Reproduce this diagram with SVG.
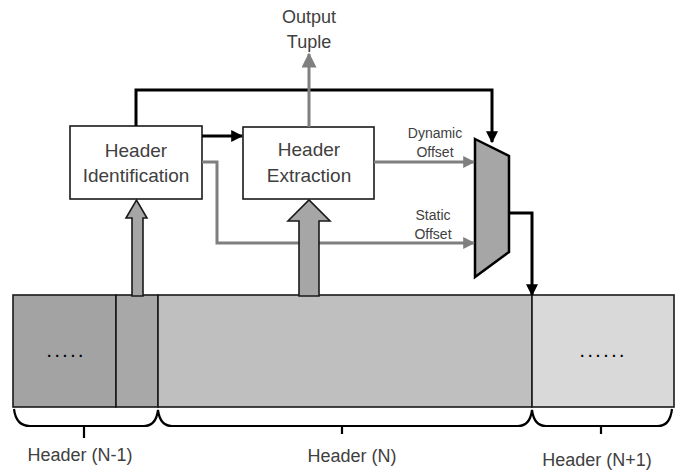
<svg xmlns="http://www.w3.org/2000/svg" width="680" height="470" viewBox="0 0 680 470">
<defs>
<style>
text{font-family:"Liberation Sans",Arial,sans-serif;fill:#404040;text-anchor:middle}
.box{fill:#fff;stroke:#1a1a1a;stroke-width:1.6}
.blk{fill:none;stroke:#000;stroke-width:3}
.gry{fill:none;stroke:#7f7f7f;stroke-width:3}
.blkarr{fill:#a6a6a6;stroke:#1a1a1a;stroke-width:1.6}
.seg{stroke:#1a1a1a;stroke-width:1.6}
.brace{fill:none;stroke:#000;stroke-width:2.2}
.bt{font-size:19px}
.lt{font-size:14px}
.ht{font-size:18px}
.dots{font-size:14px;font-weight:bold;letter-spacing:4px;fill:#000}
</style>
<marker id="ab" viewBox="0 0 10 10" refX="9" refY="5" markerWidth="4" markerHeight="4" orient="auto" markerUnits="strokeWidth"><path d="M0,0 L10,5 L0,10 z" fill="#000"/></marker>
<marker id="ag" viewBox="0 0 10 10" refX="9" refY="5" markerWidth="4" markerHeight="4" orient="auto" markerUnits="strokeWidth"><path d="M0,0 L10,5 L0,10 z" fill="#7f7f7f"/></marker>
<marker id="agl" viewBox="0 0 10 10" refX="9" refY="5" markerWidth="5" markerHeight="5" orient="auto" markerUnits="strokeWidth"><path d="M0,0 L10,5 L0,10 z" fill="#7f7f7f"/></marker>
</defs>

<g id="stream">
<rect class="seg" x="13" y="295" width="103" height="112" fill="#a3a3a3"/>
<rect class="seg" x="116" y="295" width="42" height="112" fill="#a8a8a8"/>
<rect class="seg" x="158" y="295" width="374" height="112" fill="#bfbfbf"/>
<rect class="seg" x="532" y="295" width="142" height="112" fill="#d9d9d9"/>
<text class="dots" x="67" y="357">.....</text>
<text class="dots" x="604" y="357">......</text>
</g>

<g id="braces">
<path class="brace" d="M14,409 Q16,426 30,426 H144 Q156,426 158,410 Q160,426 172,426 H518 Q530,426 532,410 Q534,426 546,426 H658 Q670,426 672,409"/>
<path class="brace" d="M84,426 V438 M342,426 V434 M601,426 V434"/>
<text class="ht" x="80" y="461">Header (N-1)</text>
<text class="ht" x="352" y="462">Header (N)</text>
<text class="ht" x="597" y="466">Header (N+1)</text>
</g>

<g id="header-identification">
<rect class="box" x="70" y="126" width="132" height="73"/>
<text class="bt" x="136" y="157">Header</text>
<text class="bt" x="136" y="182">Identification</text>
</g>

<g id="header-extraction">
<rect class="box" x="243" y="127" width="131" height="72"/>
<text class="bt" x="309" y="156">Header</text>
<text class="bt" x="309" y="182">Extraction</text>
</g>

<g id="mux">
<polygon points="475,139 509,156 509,252 475,277" fill="#a6a6a6" stroke="#000" stroke-width="2.5"/>
</g>

<g id="output-tuple">
<text class="ht" x="309" y="23">Output</text>
<text class="ht" x="309" y="48">Tuple</text>
</g>

<g id="connectors">
<path class="blk" d="M136,126 V90 H492 V142" marker-end="url(#ab)"/>
<path class="gry" d="M309,127 V54" marker-end="url(#agl)"/>
<path class="blk" d="M202,136 H242" marker-end="url(#ab)"/>
<path class="gry" d="M374,162 H474" marker-end="url(#ag)"/>
<path class="gry" d="M202,162 H217 V243 H474" marker-end="url(#ag)"/>
<path class="blk" d="M509,213 H532 V295" marker-end="url(#ab)"/>
<polygon class="blkarr" points="132,296 132,218 126,218 136.5,200 147,218 143,218 143,296"/>
<polygon class="blkarr" points="299,296 299,221 288,221 309,200 330,221 319,221 319,296"/>
<text class="lt" x="435" y="138">Dynamic</text>
<text class="lt" x="435" y="157">Offset</text>
<text class="lt" x="433" y="220">Static</text>
<text class="lt" x="433" y="239">Offset</text>
</g>
</svg>
